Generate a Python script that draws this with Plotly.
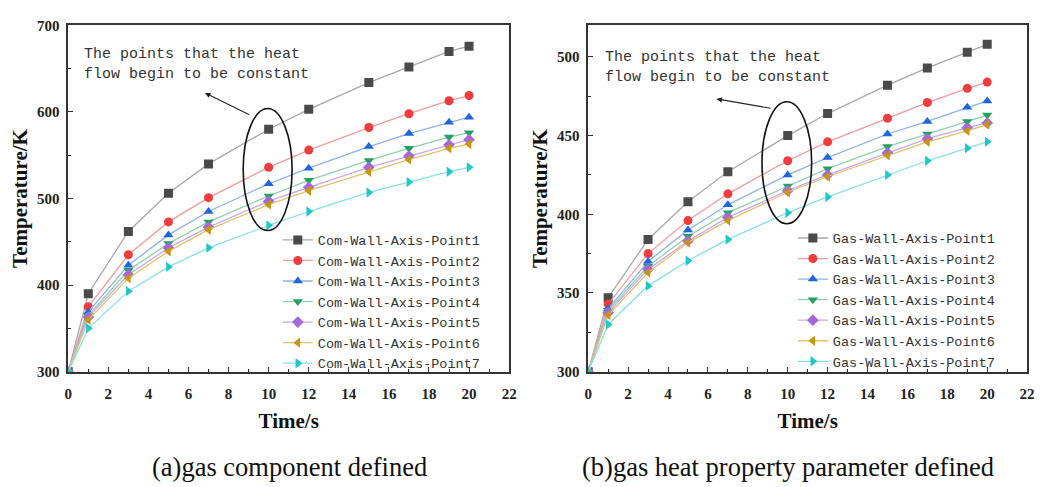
import plotly.graph_objects as go
from plotly.subplots import make_subplots

time_s = [0, 1, 3, 5, 7, 10, 12, 15, 17, 19, 20]

names_a = ["Com-Wall-Axis-Point1", "Com-Wall-Axis-Point2", "Com-Wall-Axis-Point3",
           "Com-Wall-Axis-Point4", "Com-Wall-Axis-Point5", "Com-Wall-Axis-Point6",
           "Com-Wall-Axis-Point7"]
names_b = ["Gas-Wall-Axis-Point1", "Gas-Wall-Axis-Point2", "Gas-Wall-Axis-Point3",
           "Gas-Wall-Axis-Point4", "Gas-Wall-Axis-Point5", "Gas-Wall-Axis-Point6",
           "Gas-Wall-Axis-Point7"]

a_p1 = [300, 390, 462, 506, 540, 580, 603, 634, 652, 670, 676]
a_p2 = [300, 375, 435, 473, 501, 536, 556, 582, 598, 613, 619]
a_p3 = [300, 369, 423, 458, 485, 517, 535, 560, 575, 588, 594]
a_p4 = [300, 365, 417, 448, 473, 503, 521, 544, 558, 571, 576]
a_p5 = [300, 363, 412, 443, 467, 497, 513, 536, 549, 562, 568]
a_p6 = [300, 360, 408, 439, 464, 493, 509, 531, 545, 558, 563]
a_p7 = [300, 350, 393, 421, 443, 469, 485, 507, 519, 531, 536]

b_p1 = [300, 347, 384, 408, 427, 450, 464, 482, 493, 503, 508]
b_p2 = [300, 343, 375, 396, 413, 434, 446, 461, 471, 480, 484]
b_p3 = [300, 340, 370, 390, 406, 425, 436, 451, 459, 468, 472]
b_p4 = [300, 339, 367, 386, 401, 418, 429, 443, 451, 459, 463]
b_p5 = [300, 337.5, 365, 383, 398, 415, 425, 439, 448, 455, 458]
b_p6 = [300, 336, 363, 382, 396, 414, 424, 437.5, 446, 453, 457]
b_p7 = [300, 330, 354.5, 370.5, 384, 401, 411, 425, 434, 442, 446]

series_a = [a_p1, a_p2, a_p3, a_p4, a_p5, a_p6, a_p7]
series_b = [b_p1, b_p2, b_p3, b_p4, b_p5, b_p6, b_p7]

marker_colors = ["#4a4a4a", "#f03c3c", "#1f66dc", "#24a060", "#a468dc", "#c8960c", "#1ec8c8"]
line_colors = ["#a8a8a8", "#f79a9a", "#8fb0ee", "#8fd2ac", "#caa8ee", "#e2c26e", "#86e2e2"]
symbols = ["square", "circle", "triangle-up", "triangle-down", "diamond", "triangle-left", "triangle-right"]

captions = ["(a)gas component defined", "(b)gas heat property parameter defined"]
note_text = "The points that the heat<br>flow begin to be constant"

W, H = 1045, 487
fig = make_subplots(rows=1, cols=2)

for i in range(7):
    fig.add_trace(go.Scatter(x=time_s, y=series_a[i], name=names_a[i], mode="lines+markers",
                             line=dict(color=line_colors[i], width=1.3),
                             marker=dict(symbol=symbols[i], size=9, color=marker_colors[i]),
                             legend="legend"), row=1, col=1)
for i in range(7):
    fig.add_trace(go.Scatter(x=time_s, y=series_b[i], name=names_b[i], mode="lines+markers",
                             line=dict(color=line_colors[i], width=1.3),
                             marker=dict(symbol=symbols[i], size=9, color=marker_colors[i]),
                             legend="legend2"), row=1, col=2)

ydom = [1 - 376 / H, 1 - 18 / H]
tickfont = dict(family="Liberation Serif", size=15, color="#222")
titlefont = dict(family="Liberation Serif", size=21, color="#111")

common_x = dict(range=[0, 22], dtick=2, tick0=0, ticks="inside", ticklen=5, tickwidth=1.2,
                tickcolor="#333", showline=True, linecolor="#333", linewidth=1.5, mirror=True,
                showgrid=False, zeroline=False, tickfont=tickfont, ticklabelstandoff=8,
                minor=dict(dtick=1, ticks="inside", ticklen=3, tickcolor="#333", showgrid=False),
                title=dict(text="<b>Time/s</b>", font=titlefont, standoff=12))
common_y = dict(ticks="inside", ticklen=5, tickwidth=1.2, tickcolor="#333", showline=True,
                linecolor="#333", linewidth=1.5, mirror=True, showgrid=False, zeroline=False,
                tickfont=tickfont, ticklabelstandoff=4,
                title=dict(text="<b>Temperature/K</b>", font=titlefont, standoff=4))
fig.update_layout(
    xaxis=dict(domain=[65 / W, 511 / W], **common_x),
    xaxis2=dict(domain=[591 / W, 1035 / W], **common_x),
    yaxis=dict(domain=ydom, range=[300, 700], dtick=100, tick0=300,
               minor=dict(dtick=50, ticks="inside", ticklen=3, tickcolor="#333", showgrid=False),
               **common_y),
    yaxis2=dict(domain=ydom, range=[300, 520], dtick=50, tick0=300,
                minor=dict(dtick=25, ticks="inside", ticklen=3, tickcolor="#333", showgrid=False),
                **common_y),
)
fig.update_xaxes(tickprefix="<b>", ticksuffix="</b>")
fig.update_yaxes(tickprefix="<b>", ticksuffix="</b>")

legfont = dict(family="Liberation Mono", size=13.5, color="#333")
fig.update_layout(
    legend=dict(x=277 / W, y=1 - 224 / H, xanchor="left", yanchor="top", font=legfont,
                bgcolor="rgba(0,0,0,0)", tracegroupgap=0, itemsizing="trace"),
    legend2=dict(x=798 / W, y=1 - 222 / H, xanchor="left", yanchor="top", font=legfont,
                 bgcolor="rgba(0,0,0,0)", tracegroupgap=0, itemsizing="trace"),
)

# ellipses
fig.add_shape(type="circle", xref="x", yref="y", x0=8.73, x1=11.17, y0=463, y1=604,
              line=dict(color="#111", width=1.6))
fig.add_shape(type="circle", xref="x2", yref="y2", x0=8.71, x1=11.2, y0=394, y1=471.5,
              line=dict(color="#111", width=1.6))

# arrows
fig.add_annotation(x=6.82, y=622, ax=9.11, ay=596, xref="x", yref="y", axref="x", ayref="y",
                   text="", showarrow=True, arrowhead=2, arrowsize=1, arrowwidth=1.1, arrowcolor="#222")
fig.add_annotation(x=6.43, y=473.3, ax=9.21, ay=467.2, xref="x2", yref="y2", axref="x2", ayref="y2",
                   text="", showarrow=True, arrowhead=2, arrowsize=1, arrowwidth=1.1, arrowcolor="#222")

# note texts
notefont = dict(family="Liberation Mono", size=15, color="#333")
fig.add_annotation(x=79 / W, y=1 - 37 / H, xref="paper", yref="paper", xanchor="left", yanchor="top",
                   text=note_text, showarrow=False, align="left", font=notefont)
fig.add_annotation(x=606 / W, y=1 - 40 / H, xref="paper", yref="paper", xanchor="left", yanchor="top",
                   text=note_text, showarrow=False, align="left", font=notefont)

# captions
capfont = dict(family="Liberation Serif", size=26.5, color="#111")
fig.add_annotation(x=289 / W, y=1 - 475 / H, xref="paper", yref="paper", xanchor="center", yanchor="middle",
                   text=captions[0], showarrow=False, font=capfont)
fig.add_annotation(x=793 / W, y=1 - 475 / H, xref="paper", yref="paper", xanchor="center", yanchor="middle",
                   text=captions[1], showarrow=False, font=capfont)

fig.update_layout(width=W, height=H, margin=dict(l=0, r=0, t=0, b=0),
                  plot_bgcolor="white", paper_bgcolor="white", showlegend=True)

fig.write_html("out.html")
